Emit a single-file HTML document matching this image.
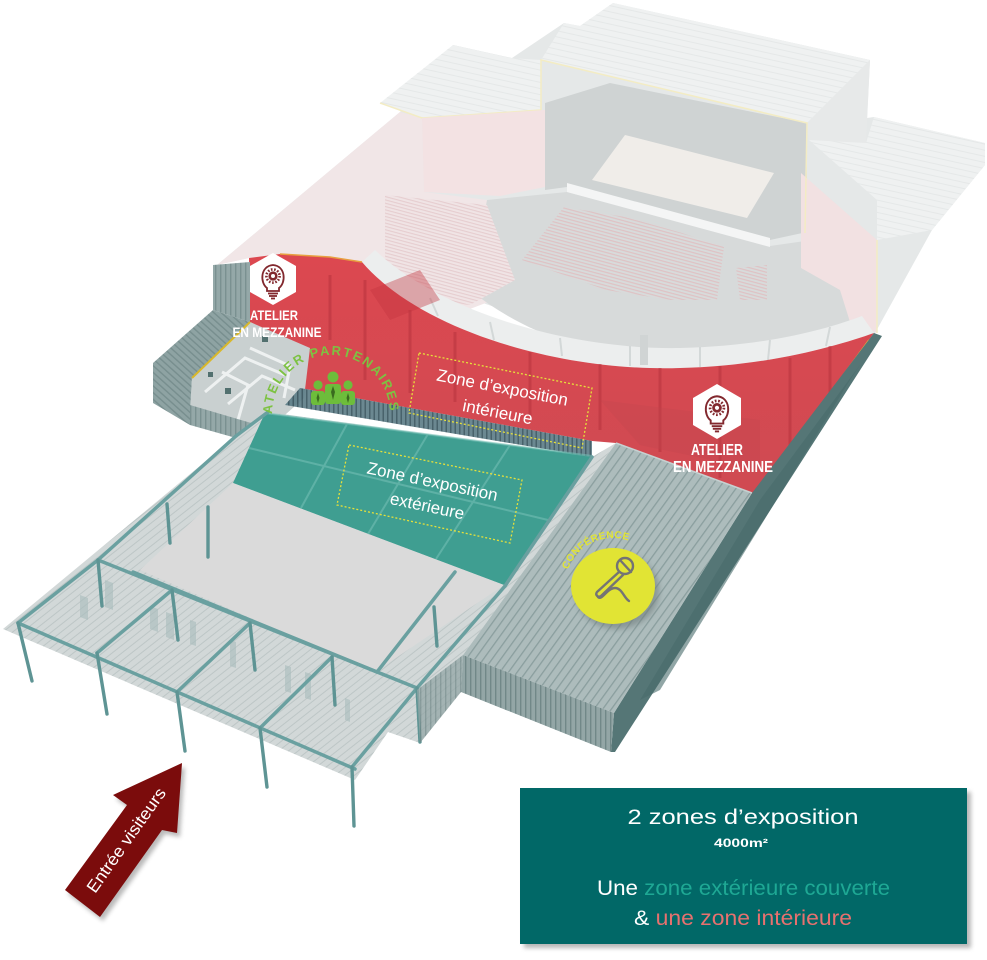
<!DOCTYPE html>
<html><head><meta charset="utf-8">
<style>
html,body{margin:0;padding:0;background:#fff;}
svg{display:block;}
</style></head>
<body>
<svg width="987" height="960" viewBox="0 0 987 960" xmlns="http://www.w3.org/2000/svg" font-family="'Liberation Sans', Arial, sans-serif">
<defs>
  <pattern id="roofStr" width="6" height="6" patternUnits="userSpaceOnUse" patternTransform="rotate(-77.5)">
    <rect width="6" height="6" fill="#eff1f1"/>
    <rect width="1" height="6" fill="#e5e8e8"/>
  </pattern>
  <pattern id="vstr" width="5" height="10" patternUnits="userSpaceOnUse">
    <rect width="5" height="10" fill="#94a8a8"/>
    <rect width="1.4" height="10" fill="#7a9191"/>
  </pattern>
  <pattern id="dstr" width="5" height="10" patternUnits="userSpaceOnUse" patternTransform="rotate(-48)">
    <rect width="5" height="10" fill="#8ea3a3"/>
    <rect width="1.4" height="10" fill="#778e8e"/>
  </pattern>
  <pattern id="confTop" width="7" height="10" patternUnits="userSpaceOnUse" patternTransform="rotate(35.8)">
    <rect width="7" height="10" fill="#adbcbc"/>
    <rect width="1.3" height="10" fill="#8a9e9e"/>
  </pattern>
  <pattern id="confFront" width="5" height="10" patternUnits="userSpaceOnUse">
    <rect width="5" height="10" fill="#93a6a6"/>
    <rect width="1.4" height="10" fill="#718888"/>
  </pattern>
  <pattern id="canStr" width="6" height="10" patternUnits="userSpaceOnUse" patternTransform="rotate(51.8)">
    <rect width="6" height="10" fill="#d2d8d8"/>
    <rect width="1" height="10" fill="#bdc6c6"/>
  </pattern>
  <pattern id="seat" width="10" height="3.2" patternUnits="userSpaceOnUse" patternTransform="rotate(15)">
    <rect width="10" height="3.2" fill="#f0e4e5"/>
    <rect width="10" height="1.1" fill="#e6cdcf"/>
  </pattern>
  <pattern id="seat2" width="10" height="3.2" patternUnits="userSpaceOnUse" patternTransform="rotate(15)">
    <rect width="10" height="3.2" fill="#d8dbdb"/>
    <rect width="10" height="1.2" fill="#dfc2c4"/>
  </pattern>
  <pattern id="rail" width="4.5" height="10" patternUnits="userSpaceOnUse">
    <rect width="4.5" height="10" fill="#5a7b85"/>
    <rect width="1.5" height="10" fill="#34505a"/>
  </pattern>
  <linearGradient id="redG" x1="0" y1="0" x2="0" y2="1">
    <stop offset="0" stop-color="#dc4850"/>
    <stop offset="1" stop-color="#cf4a52"/>
  </linearGradient>
  <filter id="blur3" x="-20%" y="-20%" width="140%" height="140%"><feGaussianBlur stdDeviation="3"/></filter>
  <filter id="blur2" x="-20%" y="-20%" width="140%" height="140%"><feGaussianBlur stdDeviation="2"/></filter>
  <path id="arcPart" d="M272,414 A59,59 0 0 1 390,414"/>
  <path id="arcConf" d="M567.9,569.6 A48,48 0 0 1 629.4,540.9"/>
  <g id="bulb" fill="none" stroke="#82282e" stroke-width="1.8">
    <path d="M-6,8 C-13,3 -13,-14 0,-15 C13,-14 13,3 6,8 L6,11 L-6,11 Z"/>
    <line x1="-5" y1="13.5" x2="5" y2="13.5"/>
    <line x1="-4" y1="16" x2="4" y2="16"/>
    <line x1="-2" y1="18.5" x2="2" y2="18.5"/>
    <circle cx="0" cy="-4" r="6.6" stroke-width="2.6" stroke-dasharray="1.6 1.6"/>
    <circle cx="0" cy="-4" r="4.6" fill="#82282e" stroke="none"/>
    <circle cx="0" cy="-4" r="2" fill="#fff" stroke="none"/>
  </g>
</defs>

<rect width="987" height="960" fill="#ffffff"/>

<!-- faded upper building -->
<polygon points="400,112 453,45 512,58 564,23 580,26 613,3 870,60 867,118 874,117 985,143 985,165 932,230 874,335 680,370 362,262 249,258 217,265" fill="#e5e8e8"/>
<polygon points="400,112 422,118 424,192 487,200 520,290 441,320 362,262 330,257 249,258 217,265" fill="#f1e6e7"/>
<polygon points="380,103 453,45 510,58 541,60 541,110 422,118" fill="url(#roofStr)"/>
<polyline points="380,103 422,118 541,110" fill="none" stroke="#f3ecc4" stroke-width="1.5"/>
<polygon points="541,60 564,23 580,26 613,3 870,60 807,123" fill="url(#roofStr)"/>
<polygon points="807,123 870,60 866,143 809,140" fill="#e7e9e9"/>
<polygon points="809,140 866,143 874,117 985,143 985,165 932,230 877,240 877,200" fill="url(#roofStr)"/>

<!-- auditorium pit -->
<path d="M487,200 L567,192 L770,246 L812,240 L845,290 L858,330 C800,350 720,360 660,358 C580,354 520,330 470,290 Z" fill="#d7dada"/>
<polygon points="385,195 487,205 515,280 470,305 420,300 385,260" fill="url(#seat)"/>
<polygon points="522,260 564,207 625,217 606,290" fill="url(#seat2)"/>
<polygon points="625,217 682,233 671,300 606,290" fill="url(#seat2)"/>
<polygon points="682,233 724,247 717,300 671,300" fill="url(#seat2)"/>
<polygon points="736,268 767,265 767,300 740,300" fill="url(#seat2)"/>
<!-- stage -->
<polygon points="545,103 610,83 807,123 807,232 770,240 567,187 545,190" fill="#cfd3d3"/>
<polygon points="592,180 625,135 774,173 747,218" fill="#f0ede9"/>
<polygon points="567,183 770,238 770,247 567,192" fill="#f4f5f5"/>
<polygon points="422,118 545,110 545,187 500,196 424,192" fill="#f3e2e3"/>
<polygon points="801,173 877,240 877,333 850,322 840,290 801,268" fill="#f2e1e2"/>
<polyline points="541,110 541,60 807,123 805,233" fill="none" stroke="#f3ecc4" stroke-width="1.5"/>
<polyline points="877,240 877,333" fill="none" stroke="#f3ecc4" stroke-width="1.5"/>
<!-- balcony ring -->
<path d="M362,262 C420,330 560,372 680,368 C770,366 840,345 874,333 L862,316 C830,328 770,346 680,348 C570,350 440,312 375,250 Z" fill="#eceeee"/>
<g stroke="#d3d8d8" stroke-width="2">
  <line x1="430" y1="298" x2="438" y2="316"/><line x1="490" y1="322" x2="494" y2="340"/>
  <line x1="560" y1="338" x2="562" y2="356"/><line x1="630" y1="346" x2="630" y2="366"/>
  <line x1="700" y1="347" x2="700" y2="367"/><line x1="770" y1="340" x2="768" y2="360"/>
  <line x1="830" y1="327" x2="826" y2="346"/>
</g>
<rect x="640" y="335" width="8" height="30" fill="#d0d4d4"/>

<!-- red interior zone -->
<path d="M249,258 L280,254 L330,257 L362,262 C420,330 560,372 680,368 C770,366 840,345 874,333 L754,497 L616,443 L592,441 L300,388 L307,350 L250,322 Z" fill="url(#redG)"/>
<polyline points="280,254 330,257 362,262" fill="none" stroke="#e8a040" stroke-width="1.5"/>
<g stroke="#b5323c" stroke-width="3" opacity="0.5">
  <line x1="330" y1="275" x2="330" y2="340"/><line x1="365" y1="280" x2="365" y2="380"/>
  <line x1="410" y1="310" x2="410" y2="393"/><line x1="455" y1="332" x2="455" y2="402"/>
  <line x1="530" y1="352" x2="530" y2="416"/><line x1="600" y1="364" x2="600" y2="430"/>
  <line x1="660" y1="368" x2="660" y2="452"/><line x1="720" y1="366" x2="720" y2="478"/>
  <line x1="790" y1="358" x2="790" y2="450"/><line x1="830" y1="346" x2="830" y2="395"/>
</g>
<path d="M370,290 L420,270 L440,300 L390,320 Z" fill="#c2343f" opacity="0.4"/>
<path d="M600,400 L760,420 L760,470 L640,445 Z" fill="#c04650" opacity="0.3"/>
<line x1="869" y1="340" x2="756" y2="494" stroke="#e6c03a" stroke-width="1.6"/>

<!-- left gray block -->
<polygon points="213,265 250,262 250,322 213,310" fill="url(#vstr)"/>
<polygon points="153,363 213,310 250,322 192,378 190,425 153,403" fill="url(#dstr)"/>
<polygon points="192,378 250,322 310,348 304,398 268,430 190,410" fill="#c9d0d0"/>
<g fill="none" stroke="#eef1f1" stroke-width="3">
  <polyline points="205,392 245,358 285,375"/>
  <polyline points="228,404 262,376 295,390"/>
  <polyline points="250,348 290,366 284,398"/>
  <polyline points="222,372 248,385 238,420"/>
</g>
<rect x="225" y="388" width="6" height="6" fill="#52706f"/>
<rect x="262" y="336" width="6" height="6" fill="#52706f"/>
<rect x="208" y="372" width="5" height="5" fill="#52706f"/>
<polygon points="190,405 268,428 268,447 190,425" fill="url(#vstr)"/>
<line x1="192" y1="378" x2="250" y2="322" stroke="#d9b82a" stroke-width="2"/>

<!-- canopy -->
<polygon points="3,629 236,436 268,412 592,457 616,443 463,655 461,692 420,743 388,732 355,780" fill="url(#canStr)"/>
<!-- teal exterior -->
<polygon points="265,413 592,456 504,585 233,483" fill="#3f9e91"/>
<!-- floor -->
<polygon points="233,483 504,585 375,672 140,570" fill="#dadada"/>
<!-- railing -->
<polygon points="300,388 592,441 592,457 285,405" fill="url(#rail)" opacity="0.9"/>
<!-- teal grid -->
<g stroke="#73bfb4" stroke-width="2" opacity="0.6">
  <line x1="347" y1="424" x2="301" y2="508"/>
  <line x1="428" y1="434" x2="368" y2="534"/>
  <line x1="510" y1="445" x2="436" y2="559"/>
  <line x1="249" y1="448" x2="548" y2="520"/>
  <line x1="265" y1="413" x2="592" y2="456"/>
</g>

<!-- wall panels -->
<g fill="#a9bdbd" opacity="0.6">
  <polygon points="150,606 158,609 158,632 150,629"/>
  <polygon points="166,612 174,615 174,640 166,637"/>
  <polygon points="190,620 196,622 196,646 190,644"/>
  <polygon points="230,640 236,642 236,668 230,666"/>
  <polygon points="285,665 291,667 291,693 285,691"/>
  <polygon points="305,672 311,674 311,700 305,698"/>
  <polygon points="345,698 350,700 350,722 345,720"/>
  <polygon points="80,595 88,598 88,620 80,617"/>
  <polygon points="105,580 113,583 113,610 105,607"/>
</g>

<!-- beams -->
<g stroke="#6aa0a0" stroke-width="3.5" stroke-linecap="round" fill="none">
  <line x1="18" y1="623" x2="355" y2="769"/>
  <line x1="98" y1="560" x2="417" y2="688"/>
  <line x1="18" y1="623" x2="98" y2="560"/>
  <line x1="97" y1="653" x2="172" y2="590"/>
  <line x1="177" y1="692" x2="250" y2="623"/>
  <line x1="260" y1="728" x2="332" y2="657"/>
  <line x1="352" y1="767" x2="417" y2="688"/>
  <line x1="98" y1="560" x2="236" y2="436"/>
  <line x1="417" y1="688" x2="505" y2="586"/>
  <line x1="236" y1="436" x2="268" y2="412"/>
  <line x1="505" y1="586" x2="592" y2="457"/>
  <line x1="133" y1="572" x2="377" y2="672"/>
  <line x1="377" y1="672" x2="455" y2="572"/>
</g>
<g stroke="#5e9494" stroke-width="3.4" stroke-linecap="round">
  <line x1="18" y1="623" x2="32" y2="681"/>
  <line x1="97" y1="653" x2="107" y2="714"/>
  <line x1="177" y1="692" x2="185" y2="751"/>
  <line x1="260" y1="728" x2="267" y2="787"/>
  <line x1="352" y1="767" x2="354" y2="826"/>
  <line x1="98" y1="560" x2="102" y2="606"/>
  <line x1="172" y1="590" x2="178" y2="640"/>
  <line x1="250" y1="623" x2="255" y2="670"/>
  <line x1="332" y1="657" x2="335" y2="705"/>
  <line x1="417" y1="688" x2="420" y2="742"/>
  <line x1="208" y1="507" x2="208" y2="557"/>
  <line x1="434" y1="607" x2="437" y2="646"/>
  <line x1="167" y1="504" x2="170" y2="543"/>
</g>

<!-- lower wall between canopy and conference -->
<polygon points="417,690 463,655 461,692 420,743" fill="url(#confFront)" opacity="0.75"/>

<!-- conference block -->
<polygon points="752,493 874,333 882,336 615,752 611,752 614,713" fill="#557676"/>
<polygon points="760,500 860,365 850,380 660,690 640,700" fill="#476a6a" opacity="0.6"/>
<polygon points="616,443 752,493 614,713 463,655" fill="url(#confTop)"/>
<polygon points="463,655 614,713 611,752 461,692" fill="url(#confFront)"/>
<line x1="616" y1="443" x2="752" y2="493" stroke="#c6d1d1" stroke-width="1.5"/>

<!-- conference circle -->
<ellipse cx="617" cy="591" rx="42" ry="38" fill="#6f7d7d" opacity="0.6" filter="url(#blur3)"/>
<ellipse cx="613" cy="586" rx="42" ry="38" fill="#e1e434"/>
<g fill="none" stroke="#747474" stroke-width="2.4" stroke-linecap="round" stroke-linejoin="round">
  <circle cx="625" cy="566" r="8"/>
  <line x1="620" y1="560" x2="631" y2="572"/>
  <path d="M619,572 L597,592 C595,595 598,598 601,596 L623,575"/>
  <path d="M598,597 C602,601 607,588 615,588 C622,588 624,598 629,601"/>
</g>
<text font-size="10" font-weight="bold" fill="#e1e434"><textPath href="#arcConf" textLength="74" lengthAdjust="spacing">CONFÉRENCE</textPath></text>

<!-- hex icons -->
<polygon points="273,253 296,266 296,292 273,305 250,292 250,266" fill="#ffffff"/>
<use href="#bulb" transform="translate(273,280)"/>
<polygon points="717,384 741,398 741,425 717,439 693,425 693,398" fill="#ffffff"/>
<use href="#bulb" transform="translate(717,412) scale(1.05)"/>

<text x="274" y="320" font-size="14" font-weight="bold" fill="#fff" text-anchor="middle" textLength="48" lengthAdjust="spacingAndGlyphs">ATELIER</text>
<text x="277" y="337" font-size="14" font-weight="bold" fill="#fff" text-anchor="middle" textLength="89" lengthAdjust="spacingAndGlyphs">EN MEZZANINE</text>
<text x="717" y="455" font-size="16" font-weight="bold" fill="#fff" text-anchor="middle" textLength="52" lengthAdjust="spacingAndGlyphs">ATELIER</text>
<text x="723" y="472" font-size="16" font-weight="bold" fill="#fff" text-anchor="middle" textLength="100" lengthAdjust="spacingAndGlyphs">EN MEZZANINE</text>

<!-- atelier partenaires -->
<text font-size="13" fill="#7dc242" font-weight="bold"><textPath href="#arcPart" textLength="182" lengthAdjust="spacing">ATELIER PARTENAIRES</textPath></text>
<g fill="#6dbd3b">
  <circle cx="333" cy="377" r="5.5"/>
  <circle cx="318" cy="385" r="4.6"/>
  <circle cx="348" cy="385" r="4.6"/>
  <rect x="311" y="391" width="14" height="14" rx="3"/>
  <rect x="341" y="391" width="14" height="14" rx="3"/>
  <rect x="325" y="384" width="16" height="20" rx="3"/>
</g>
<g fill="#3a6b1f">
  <polygon points="333,386 335,392 333,400 331,392"/>
  <polygon points="318,393 319.5,398 318,403 316.5,398"/>
  <polygon points="348,393 349.5,398 348,403 346.5,398"/>
</g>

<!-- zone labels -->
<polygon points="419,353 592,388 582,448 409,413" fill="none" stroke="#e6e03a" stroke-width="1.3" stroke-dasharray="2 2"/>
<g transform="rotate(11 500 400)" fill="#fff" font-size="17" text-anchor="middle">
  <text x="500" y="393">Zone d’exposition</text>
  <text x="500" y="418">intérieure</text>
</g>
<polygon points="349,445 522,480 510,543 337,505" fill="none" stroke="#e6e03a" stroke-width="1.3" stroke-dasharray="2 2"/>
<g transform="rotate(12 430 493)" fill="#fff" font-size="17" text-anchor="middle">
  <text x="430" y="487">Zone d’exposition</text>
  <text x="430" y="512">extérieure</text>
</g>

<!-- arrow -->
<polygon points="182,763 177,833 162,830 100,917 65,890 127,805 113,795" fill="#666" opacity="0.45" filter="url(#blur2)" transform="translate(3,4)"/>
<polygon points="182,763 177,833 162,830 100,917 65,890 127,805 113,795" fill="#7b0c0c"/>
<text x="126" y="846" transform="rotate(-54.7 126 840)" font-size="17" fill="#fff" text-anchor="middle" textLength="124" lengthAdjust="spacingAndGlyphs">Entrée visiteurs</text>

<!-- info box -->
<rect x="524" y="792" width="447" height="156" fill="#888" opacity="0.6" filter="url(#blur2)"/>
<rect x="520" y="788" width="447" height="156" fill="#016867"/>
<text x="743" y="824" font-size="21" fill="#fff" text-anchor="middle" textLength="231" lengthAdjust="spacingAndGlyphs">2 zones d’exposition</text>
<text x="741" y="847" font-size="12" font-weight="bold" fill="#fff" text-anchor="middle" textLength="54" lengthAdjust="spacingAndGlyphs">4000m²</text>
<text x="743.5" y="895" font-size="21" fill="#fff" text-anchor="middle" textLength="293" lengthAdjust="spacingAndGlyphs">Une <tspan fill="#1ea894">zone extérieure couverte</tspan></text>
<text x="743" y="925" font-size="21" fill="#fff" text-anchor="middle" textLength="218" lengthAdjust="spacingAndGlyphs">&amp; <tspan fill="#e7716f">une zone intérieure</tspan></text>
</svg>
</body></html>
